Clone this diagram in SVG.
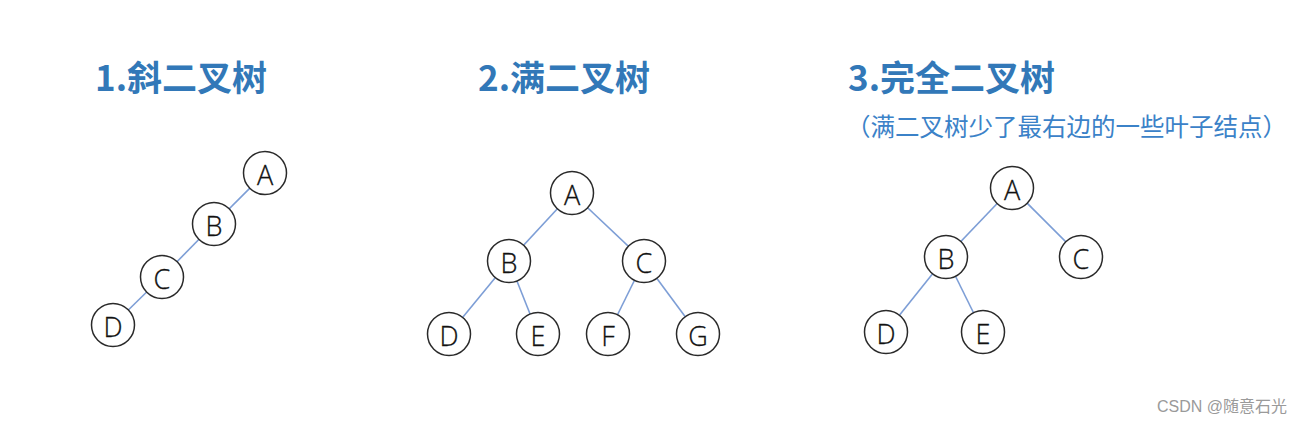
<svg xmlns="http://www.w3.org/2000/svg" width="1309" height="424" viewBox="0 0 1309 424">
<style>
.title{font-family:"Noto Sans CJK SC","Noto Sans",sans-serif;font-weight:bold;font-size:35px;fill:#3278b8}
.sub{font-family:"Noto Sans CJK SC","Noto Sans",sans-serif;font-size:24.5px;fill:#3b82c8}
.node circle{fill:#fff;stroke:#2a2a2a;stroke-width:1.5}
.node text{font-family:"Open Sans","Noto Sans",sans-serif;font-weight:300;font-size:27px;fill:#111;stroke:#111;stroke-width:0.3;text-anchor:middle;dominant-baseline:central}
.edges line{stroke:#7d9ed6;stroke-width:1.6}
.wm{font-family:"Liberation Sans","Noto Sans CJK SC",sans-serif;font-size:16px;fill:#9a9a9a}
</style>
<rect width="1309" height="424" fill="#fff"/>
<text class="title" x="95" y="91">1.斜二叉树</text>
<text class="title" x="478" y="91">2.满二叉树</text>
<text class="title" x="848" y="91">3.完全二叉树</text>
<text class="sub" x="846" y="136">（满二叉树少了最右边的一些叶子结点）</text>
<g class="edges">
<line x1="265" y1="173" x2="214" y2="224"/>
<line x1="214" y1="224" x2="162" y2="277"/>
<line x1="162" y1="277" x2="113" y2="325"/>
<line x1="572" y1="193" x2="509" y2="261"/>
<line x1="572" y1="193" x2="644" y2="261"/>
<line x1="509" y1="261" x2="449" y2="334"/>
<line x1="509" y1="261" x2="538" y2="334"/>
<line x1="644" y1="261" x2="608" y2="334"/>
<line x1="644" y1="261" x2="698" y2="334"/>
<line x1="1012" y1="188" x2="946" y2="257"/>
<line x1="1012" y1="188" x2="1081" y2="257"/>
<line x1="946" y1="257" x2="886" y2="332"/>
<line x1="946" y1="257" x2="983" y2="332"/>
</g>
<g id="t1A" class="node"><circle cx="265" cy="173" r="21.5"/><text x="265" y="174">A</text></g>
<g id="t1B" class="node"><circle cx="214" cy="224" r="21.5"/><text x="214" y="225">B</text></g>
<g id="t1C" class="node"><circle cx="162" cy="277" r="21.5"/><text x="162" y="278">C</text></g>
<g id="t1D" class="node"><circle cx="113" cy="325" r="21.5"/><text x="113" y="326">D</text></g>
<g id="t2A" class="node"><circle cx="572" cy="193" r="21.5"/><text x="572" y="194">A</text></g>
<g id="t2B" class="node"><circle cx="509" cy="261" r="21.5"/><text x="509" y="262">B</text></g>
<g id="t2C" class="node"><circle cx="644" cy="261" r="21.5"/><text x="644" y="262">C</text></g>
<g id="t2D" class="node"><circle cx="449" cy="334" r="21.5"/><text x="449" y="335">D</text></g>
<g id="t2E" class="node"><circle cx="538" cy="334" r="21.5"/><text x="538" y="335">E</text></g>
<g id="t2F" class="node"><circle cx="608" cy="334" r="21.5"/><text x="608" y="335">F</text></g>
<g id="t2G" class="node"><circle cx="698" cy="334" r="21.5"/><text x="698" y="335">G</text></g>
<g id="t3A" class="node"><circle cx="1012" cy="188" r="21.5"/><text x="1012" y="189">A</text></g>
<g id="t3B" class="node"><circle cx="946" cy="257" r="21.5"/><text x="946" y="258">B</text></g>
<g id="t3C" class="node"><circle cx="1081" cy="257" r="21.5"/><text x="1081" y="258">C</text></g>
<g id="t3D" class="node"><circle cx="886" cy="332" r="21.5"/><text x="886" y="333">D</text></g>
<g id="t3E" class="node"><circle cx="983" cy="332" r="21.5"/><text x="983" y="333">E</text></g>
<text class="wm" x="1157" y="412">CSDN @随意石光</text>
</svg>
